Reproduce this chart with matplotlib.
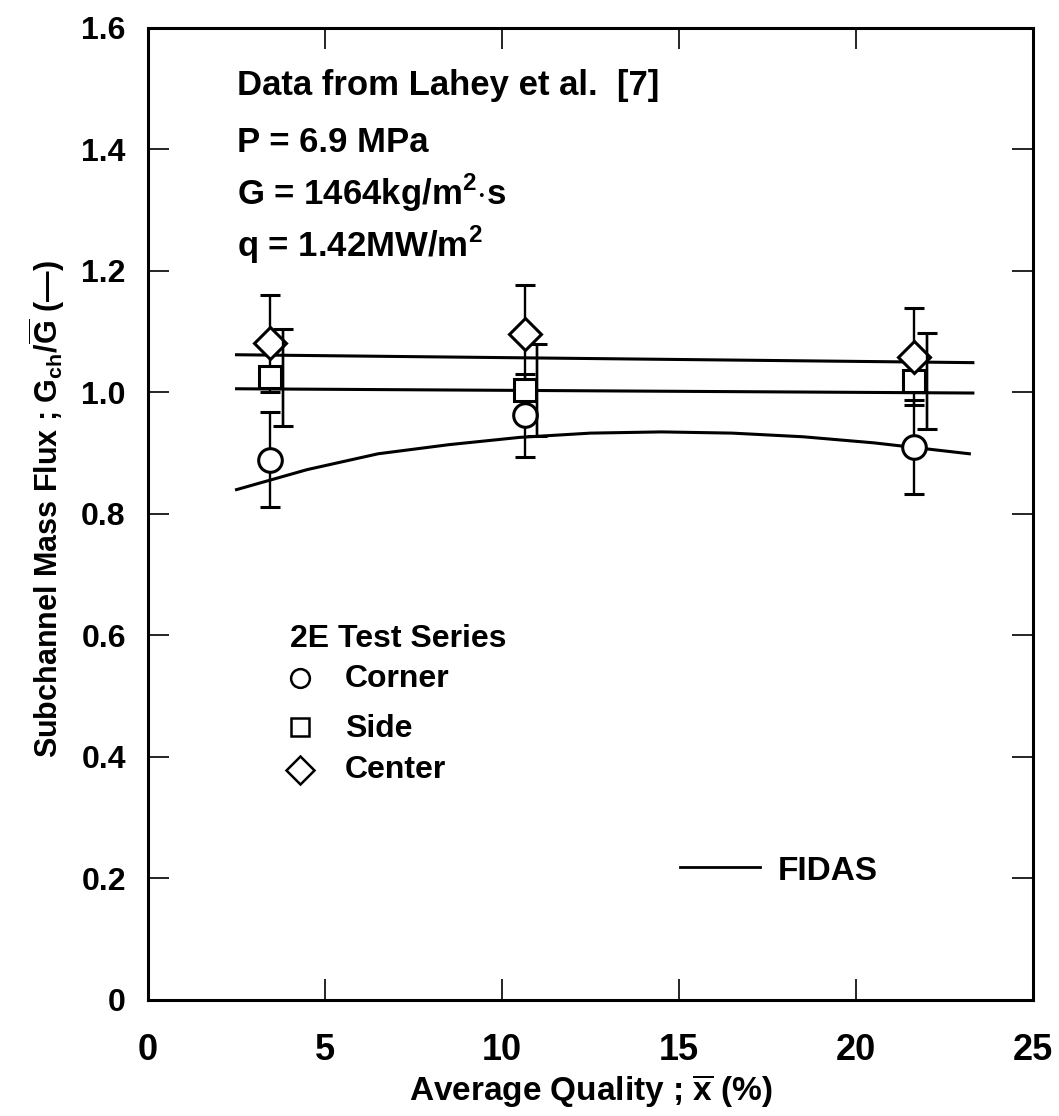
import matplotlib
matplotlib.use("Agg")
import matplotlib.pyplot as plt

plt.rcParams['font.family'] = ['Liberation Sans', 'DejaVu Sans']
plt.rcParams['mathtext.fontset'] = 'custom'
plt.rcParams['mathtext.rm'] = 'Liberation Sans:bold'
plt.rcParams['mathtext.bf'] = 'Liberation Sans:bold'

# measured data (2E test series)
quality = [3.45, 10.65, 21.65]
corner = [0.889, 0.962, 0.910]
corner_err = [0.078, 0.068, 0.077]
side = [1.025, 1.004, 1.018]
side_err = [0.080, 0.076, 0.079]
side_bar_x = [3.8, 11.0, 22.0]
center = [1.081, 1.096, 1.059]
center_err = [0.080, 0.080, 0.080]

# FIDAS predictions
fidas_x = [2.5, 23.3]
fidas_center = [1.062, 1.049]
fidas_side = [1.006, 0.999]
fidas_corner_x = [2.5, 4.5, 6.5, 8.5, 10.5, 12.5, 14.5, 16.5, 18.5, 20.5, 22.0, 23.2]
fidas_corner = [0.840, 0.873, 0.899, 0.914, 0.926, 0.933, 0.935, 0.933, 0.927, 0.917, 0.907, 0.899]

xticks = [0, 5, 10, 15, 20, 25]
yticks = [0, 0.2, 0.4, 0.6, 0.8, 1.0, 1.2, 1.4, 1.6]
ytick_labels = ['0', '0.2', '0.4', '0.6', '0.8', '1.0', '1.2', '1.4', '1.6']

fig = plt.figure(figsize=(10.59, 11.16), dpi=100)
ax = fig.add_axes([0.1398, 0.104, 0.8357, 0.871])

# model lines
ax.plot(fidas_x, fidas_center, color='black', lw=2.2, zorder=2)
ax.plot(fidas_x, fidas_side, color='black', lw=2.2, zorder=2)
ax.plot(fidas_corner_x, fidas_corner, color='black', lw=2.2, zorder=2)

# error bars
ekw = dict(fmt='none', ecolor='black', elinewidth=1.7, capsize=7.5, capthick=2.2, zorder=3)
ax.errorbar(quality, center, yerr=center_err, **ekw)
ax.errorbar(side_bar_x, side, yerr=side_err, **ekw)
ax.errorbar(quality, corner, yerr=corner_err, **ekw)

# markers
mkw = dict(ls='none', mfc='white', mec='black', mew=2.2, zorder=4)
ax.plot(quality, corner, marker='o', ms=17, **mkw)
ax.plot(quality, side, marker='s', ms=16, **mkw)
ax.plot(quality, center, marker='D', ms=16.5, **mkw)
ax.errorbar(side_bar_x, side, yerr=side_err, fmt='none', ecolor='black',
            elinewidth=1.7, capsize=0, zorder=5)

ax.set_xlim(0, 25)
ax.set_ylim(0, 1.6)
ax.set_xticks(xticks)
ax.set_yticks(yticks)
ax.set_yticklabels(ytick_labels)
ax.tick_params(direction='in', length=15, width=1.2, top=True, right=True)
ax.tick_params(axis='y', labelsize=23, pad=16)
ax.tick_params(axis='x', labelsize=26, pad=24)
for lab in ax.get_yticklabels() + ax.get_xticklabels():
    lab.set_fontweight('bold')
for sp in ax.spines.values():
    sp.set_linewidth(2.2)

ax.set_xlabel(r'Average Quality ; $\overline{\rm x}$ (%)', fontsize=24,
              fontweight='bold', va='center')
ax.xaxis.set_label_coords(0.5, -0.094)
ax.set_ylabel(r'Subchannel Mass Flux ; G$_{\rm ch}$/$\overline{\rm G}$ (—)',
              fontsize=22, fontweight='bold', va='center')
ax.yaxis.set_label_coords(-0.114, 0.505)

# annotation block
info = ['Data from Lahey et al.  [7]', 'P = 6.9 MPa',
        r'G = 1464kg/m$^2$$\cdot$s', r'q = 1.42MW/m$^2$']
info_y = [0.931, 0.872, 0.818, 0.765]
for t, yy in zip(info, info_y):
    ax.text(0.1006, yy, t, transform=ax.transAxes, fontsize=25, fontweight='bold',
            va='baseline', ha='left')

# legend block
ax.text(0.160, 0.363, '2E Test Series', transform=ax.transAxes, fontsize=23,
        fontweight='bold', va='baseline', ha='left')
leg_names = ['Corner', 'Side', 'Center']
leg_markers = ['o', 's', 'D']
leg_sizes = [13.5, 12.5, 14.5]
leg_my = [0.331, 0.281, 0.237]
leg_ty = [0.322, 0.2706, 0.2284]
for name, mk, s, my, ty in zip(leg_names, leg_markers, leg_sizes, leg_my, leg_ty):
    ax.plot([0.172], [my], marker=mk, ms=s, mfc='white', mec='black', mew=1.8,
            transform=ax.transAxes, clip_on=False)
    ax.text(0.2226, ty, name, transform=ax.transAxes, fontsize=23,
            fontweight='bold', va='baseline', ha='left')

ax.plot([0.601, 0.692], [0.137, 0.137], color='black', lw=2, transform=ax.transAxes)
ax.text(0.712, 0.1235, 'FIDAS', transform=ax.transAxes, fontsize=24,
        fontweight='bold', va='baseline', ha='left')

fig.savefig('out.png', dpi=100)
